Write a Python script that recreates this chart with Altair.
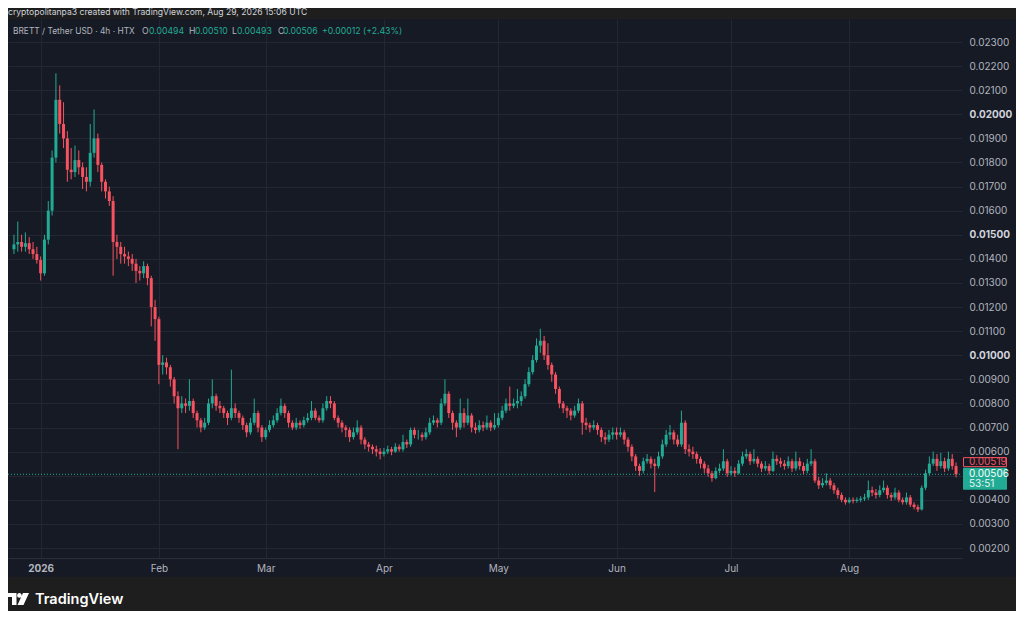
import altair as alt
import pandas as pd

# ---------------- data (daily candles) ----------------
START = "2025-12-25"
OPEN_FIRST = 0.01440

CLOSE = [
    0.01460, 0.01470, 0.01450, 0.01465, 0.01440, 0.01420, 0.01395, 0.01340, 0.01480, 0.01600,
    0.01820, 0.02060, 0.01960, 0.01900, 0.01770, 0.01760, 0.01810, 0.01780, 0.01740, 0.01720,
    0.01840, 0.01900, 0.01790, 0.01720, 0.01680, 0.01640, 0.01470, 0.01450, 0.01420, 0.01410,
    0.01400, 0.01380, 0.01350, 0.01340, 0.01370, 0.01320, 0.01200, 0.01150, 0.00960, 0.00970,
    0.00950, 0.00900, 0.00830, 0.00780, 0.00800, 0.00790, 0.00810, 0.00760, 0.00730, 0.00700,
    0.00720, 0.00800, 0.00830, 0.00790, 0.00780, 0.00760, 0.00740, 0.00780, 0.00760, 0.00740,
    0.00710, 0.00680, 0.00720, 0.00760, 0.00700, 0.00660, 0.00690, 0.00710, 0.00730, 0.00760,
    0.00790, 0.00760, 0.00720, 0.00700, 0.00720, 0.00710, 0.00730, 0.00740, 0.00770, 0.00740,
    0.00730, 0.00780, 0.00810, 0.00800, 0.00740, 0.00720, 0.00700, 0.00690, 0.00660, 0.00680,
    0.00700, 0.00650, 0.00630, 0.00620, 0.00610, 0.00600, 0.00590, 0.00600, 0.00610, 0.00600,
    0.00620, 0.00610, 0.00640, 0.00630, 0.00690, 0.00670, 0.00670, 0.00660, 0.00680, 0.00720,
    0.00730, 0.00720, 0.00800, 0.00840, 0.00760, 0.00720, 0.00700, 0.00760, 0.00720, 0.00750,
    0.00700, 0.00690, 0.00710, 0.00700, 0.00720, 0.00700, 0.00710, 0.00740, 0.00770, 0.00800,
    0.00790, 0.00800, 0.00810, 0.00830, 0.00880, 0.00930, 0.00980, 0.01040, 0.01060, 0.01000,
    0.00960, 0.00920, 0.00860, 0.00800, 0.00780, 0.00770, 0.00750, 0.00770, 0.00800, 0.00720,
    0.00710, 0.00700, 0.00710, 0.00690, 0.00660, 0.00650, 0.00670, 0.00680, 0.00670, 0.00680,
    0.00650, 0.00620, 0.00580, 0.00540, 0.00520, 0.00560, 0.00570, 0.00550, 0.00540, 0.00580,
    0.00630, 0.00670, 0.00680, 0.00650, 0.00630, 0.00720, 0.00610, 0.00600, 0.00590, 0.00570,
    0.00550, 0.00530, 0.00510, 0.00490, 0.00520, 0.00530, 0.00560, 0.00510, 0.00520, 0.00510,
    0.00550, 0.00580, 0.00590, 0.00560, 0.00570, 0.00550, 0.00530, 0.00540, 0.00520, 0.00570,
    0.00560, 0.00550, 0.00540, 0.00560, 0.00530, 0.00560, 0.00540, 0.00520, 0.00550, 0.00560,
    0.00480, 0.00460, 0.00470, 0.00480, 0.00460, 0.00440, 0.00420, 0.00400, 0.00390, 0.00400,
    0.00395, 0.00400, 0.00405, 0.00410, 0.00440, 0.00430, 0.00420, 0.00440, 0.00450, 0.00420,
    0.00410, 0.00430, 0.00400, 0.00390, 0.00410, 0.00380, 0.00370, 0.00360, 0.00450, 0.00510,
    0.00550, 0.00570, 0.00540, 0.00560, 0.00530, 0.00570, 0.00540, 0.00506,
]

HIGH = [
    0.01500, 0.01555, 0.01500, 0.01510, 0.01490, 0.01470, 0.01450, 0.01410, 0.01500, 0.01640,
    0.01850, 0.02170, 0.02120, 0.02050, 0.01930, 0.01860, 0.01870, 0.01850, 0.01800, 0.01780,
    0.01960, 0.02020, 0.01920, 0.01800, 0.01730, 0.01700, 0.01660, 0.01500, 0.01470, 0.01450,
    0.01430, 0.01420, 0.01400, 0.01370, 0.01390, 0.01380, 0.01330, 0.01230, 0.01160, 0.01000,
    0.00990, 0.00960, 0.00910, 0.00850, 0.00830, 0.00820, 0.00900, 0.00820, 0.00770, 0.00740,
    0.00740, 0.00820, 0.00900, 0.00840, 0.00810, 0.00790, 0.00770, 0.00940, 0.00800, 0.00770,
    0.00750, 0.00720, 0.00740, 0.00820, 0.00770, 0.00710, 0.00700, 0.00730, 0.00750, 0.00780,
    0.00820, 0.00800, 0.00770, 0.00730, 0.00740, 0.00730, 0.00745, 0.00760, 0.00810, 0.00780,
    0.00750, 0.00800, 0.00830, 0.00830, 0.00810, 0.00750, 0.00730, 0.00710, 0.00700, 0.00700,
    0.00730, 0.00710, 0.00660, 0.00640, 0.00630, 0.00625, 0.00615, 0.00615, 0.00625, 0.00620,
    0.00635, 0.00630, 0.00670, 0.00650, 0.00700, 0.00700, 0.00690, 0.00680, 0.00700, 0.00740,
    0.00750, 0.00740, 0.00820, 0.00900, 0.00850, 0.00770, 0.00730, 0.00820, 0.00780, 0.00820,
    0.00760, 0.00720, 0.00730, 0.00725, 0.00750, 0.00730, 0.00760, 0.00760, 0.00790, 0.00820,
    0.00870, 0.00820, 0.00860, 0.00850, 0.00900, 0.00950, 0.01000, 0.01070, 0.01110, 0.01080,
    0.01050, 0.00970, 0.00930, 0.00870, 0.00810, 0.00790, 0.00780, 0.00790, 0.00820, 0.00810,
    0.00740, 0.00720, 0.00730, 0.00720, 0.00700, 0.00680, 0.00690, 0.00700, 0.00700, 0.00700,
    0.00690, 0.00660, 0.00630, 0.00590, 0.00550, 0.00575, 0.00590, 0.00580, 0.00570, 0.00600,
    0.00650, 0.00690, 0.00710, 0.00690, 0.00670, 0.00770, 0.00730, 0.00630, 0.00620, 0.00600,
    0.00580, 0.00560, 0.00545, 0.00520, 0.00535, 0.00550, 0.00610, 0.00570, 0.00540, 0.00535,
    0.00565, 0.00600, 0.00610, 0.00600, 0.00610, 0.00580, 0.00560, 0.00560, 0.00550, 0.00600,
    0.00585, 0.00575, 0.00565, 0.00580, 0.00570, 0.00600, 0.00575, 0.00555, 0.00570, 0.00610,
    0.00570, 0.00495, 0.00490, 0.00510, 0.00490, 0.00470, 0.00450, 0.00430, 0.00410, 0.00410,
    0.00410, 0.00410, 0.00415, 0.00425, 0.00480, 0.00455, 0.00445, 0.00460, 0.00480, 0.00460,
    0.00430, 0.00450, 0.00440, 0.00410, 0.00430, 0.00420, 0.00390, 0.00380, 0.00460, 0.00525,
    0.00580, 0.00600, 0.00590, 0.00595, 0.00575, 0.00600, 0.00590, 0.00555,
]

LOW = [
    0.01420, 0.01430, 0.01430, 0.01430, 0.01420, 0.01400, 0.01380, 0.01310, 0.01330, 0.01460,
    0.01580, 0.01800, 0.01920, 0.01860, 0.01720, 0.01730, 0.01740, 0.01750, 0.01690, 0.01680,
    0.01700, 0.01820, 0.01760, 0.01680, 0.01650, 0.01620, 0.01330, 0.01400, 0.01380, 0.01380,
    0.01370, 0.01350, 0.01300, 0.01310, 0.01320, 0.01290, 0.01120, 0.01060, 0.00880, 0.00920,
    0.00920, 0.00870, 0.00800, 0.00610, 0.00760, 0.00760, 0.00770, 0.00740, 0.00700, 0.00680,
    0.00690, 0.00710, 0.00780, 0.00770, 0.00760, 0.00740, 0.00710, 0.00730, 0.00740, 0.00720,
    0.00690, 0.00660, 0.00670, 0.00710, 0.00680, 0.00640, 0.00650, 0.00680, 0.00700, 0.00720,
    0.00750, 0.00740, 0.00700, 0.00690, 0.00690, 0.00695, 0.00700, 0.00720, 0.00730, 0.00730,
    0.00720, 0.00720, 0.00770, 0.00780, 0.00730, 0.00700, 0.00680, 0.00660, 0.00640, 0.00650,
    0.00670, 0.00630, 0.00610, 0.00600, 0.00590, 0.00580, 0.00568, 0.00580, 0.00590, 0.00585,
    0.00595, 0.00600, 0.00600, 0.00615, 0.00620, 0.00655, 0.00650, 0.00645, 0.00650, 0.00670,
    0.00710, 0.00700, 0.00710, 0.00790, 0.00740, 0.00690, 0.00660, 0.00690, 0.00700, 0.00710,
    0.00680, 0.00675, 0.00680, 0.00685, 0.00690, 0.00685, 0.00690, 0.00700, 0.00730, 0.00760,
    0.00770, 0.00780, 0.00780, 0.00790, 0.00820, 0.00870, 0.00920, 0.00970, 0.01010, 0.00980,
    0.00940, 0.00890, 0.00840, 0.00780, 0.00760, 0.00740, 0.00730, 0.00740, 0.00760, 0.00670,
    0.00690, 0.00680, 0.00690, 0.00670, 0.00640, 0.00630, 0.00640, 0.00650, 0.00650, 0.00660,
    0.00630, 0.00600, 0.00560, 0.00520, 0.00500, 0.00510, 0.00550, 0.00530, 0.00432, 0.00530,
    0.00570, 0.00620, 0.00650, 0.00630, 0.00620, 0.00620, 0.00590, 0.00580, 0.00570, 0.00550,
    0.00530, 0.00510, 0.00495, 0.00475, 0.00485, 0.00510, 0.00520, 0.00495, 0.00500, 0.00495,
    0.00505, 0.00540, 0.00570, 0.00545, 0.00550, 0.00535, 0.00515, 0.00520, 0.00505, 0.00515,
    0.00545, 0.00535, 0.00525, 0.00530, 0.00515, 0.00520, 0.00525, 0.00505, 0.00510, 0.00540,
    0.00470, 0.00445, 0.00450, 0.00460, 0.00445, 0.00425, 0.00405, 0.00390, 0.00380, 0.00385,
    0.00385, 0.00388, 0.00390, 0.00395, 0.00400, 0.00415, 0.00405, 0.00410, 0.00430, 0.00405,
    0.00395, 0.00400, 0.00390, 0.00380, 0.00380, 0.00370, 0.00360, 0.00349, 0.00355, 0.00440,
    0.00500, 0.00540, 0.00520, 0.00530, 0.00515, 0.00520, 0.00525, 0.00493,
]

PRICE_TICKS = [0.002, 0.003, 0.004, 0.005, 0.006, 0.007, 0.008, 0.009, 0.010, 0.011, 0.012,
               0.013, 0.014, 0.015, 0.016, 0.017, 0.018, 0.019, 0.020, 0.021, 0.022, 0.023]
BOLD_TICKS = [0.010, 0.015, 0.020]
HIDDEN_TICK = 0.005          # its label sits under the last-price tag
MONTH_LABELS = ["2026", "Feb", "Mar", "Apr", "May", "Jun", "Jul", "Aug"]

LAST_CLOSE = 0.00506
MARK_PRICE = 0.00519
COUNTDOWN = "53:51"
WATERMARK = "cryptopolitanpa3 created with TradingView.com, Aug 29, 2026 15:06 UTC"
SYMBOL = "BRETT / Tether USD · 4h · HTX"
OHLC_KEYS = ["O", "H", "L", "C"]
OHLC_VALS = ["0.00494", "0.00510", "0.00493", "0.00506"]
CHANGE = "+0.00012 (+2.43%)"
BRAND = "TradingView"

assert len(CLOSE) == len(HIGH) == len(LOW)

OPEN = [OPEN_FIRST] + CLOSE[:-1]
dates = pd.date_range(START, periods=len(CLOSE), freq="D").strftime("%Y-%m-%dT00:00:00Z")
df = pd.DataFrame({"t": list(dates), "o": OPEN, "h": HIGH, "l": LOW, "c": CLOSE})

# ---------------- style ----------------
W, H = 954, 539
PANEL = "#161a25"
OUTER = "#1e1e1e"
GRID = "#232734"
TXT = "#b2b5be"
TXT_HI = "#d1d4dc"
UP = "#22ab94"
DOWN = "#f7525f"
FONT = "Inter"

x_scale = alt.Scale(
    type="utc",
    domain=[alt.DateTime(year=2025, month=12, date=24, hours=18, utc=True),
            alt.DateTime(year=2026, month=8, date=29, hours=6, utc=True)],
)
y_scale = alt.Scale(domain=[0.001585, 0.023955], nice=False, zero=False)

label_expr = "[" + ",".join("'%s'" % s for s in MONTH_LABELS) + "][utcmonth(datum.value)]"
x_axis = alt.Axis(
    values=[alt.DateTime(year=2026, month=m, date=1, utc=True) for m in range(1, len(MONTH_LABELS) + 1)],
    labelExpr=label_expr, title=None, grid=True, gridColor=GRID, gridWidth=1,
    ticks=False, domain=True, domainColor="#2a2e39", labelColor=TXT, labelFontSize=10,
    labelFont=FONT, labelPadding=5, labelFlush=False,
    labelFontWeight={"condition": {"test": "utcmonth(datum.value) == 0", "value": "bold"}, "value": "normal"},
)
bold_test = " || ".join("abs(datum.value - %s) < 0.00001" % v for v in BOLD_TICKS)
y_axis = alt.Axis(
    values=PRICE_TICKS, title=None, orient="right", grid=True, gridColor=GRID,
    labelExpr="abs(datum.value - %s) < 0.0000001 ? '' : format(datum.value, '.5f')" % HIDDEN_TICK,
    gridWidth=1, ticks=False, domain=False, labelFontSize=10, labelFont=FONT, labelPadding=7,
    labelFlush=False, labelOverlap=False,
    labelColor={"condition": {"test": bold_test, "value": TXT_HI}, "value": TXT},
    labelFontWeight={"condition": {"test": bold_test, "value": "bold"}, "value": "normal"},
)

X = alt.X("t:T", scale=x_scale, axis=x_axis)
col = alt.condition("datum.c >= datum.o", alt.value(UP), alt.value(DOWN))

base = alt.Chart(df)
wick = base.mark_rule(strokeWidth=1).encode(
    x=X, y=alt.Y("l:Q", scale=y_scale, axis=y_axis), y2="h:Q", color=col)
body = base.mark_bar(size=3.0).encode(
    x=X, y=alt.Y("o:Q", scale=y_scale, axis=y_axis), y2="c:Q", color=col)

one = alt.Data(values=[{}])


def text(s, x, y, color, size=9, weight="normal", align="left"):
    return alt.Chart(alt.Data(values=[{"s": s}])).mark_text(
        align=align, baseline="middle", color=color, fontSize=size, fontWeight=weight, font=FONT
    ).encode(x=alt.value(x), y=alt.value(y), text="s:N")


def ydat(v):
    # same axis definition as the candles so the shared axis merges cleanly
    return alt.YDatum(v, scale=y_scale, axis=y_axis)


def y2dat(v):
    return alt.Y2Datum(v)


# outer frame strips
top_strip = alt.Chart(one).mark_rect(color=OUTER).encode(
    x=alt.value(-10), x2=alt.value(W + 80), y=alt.value(-12), y2=alt.value(0))
bot_strip = alt.Chart(one).mark_rect(color=OUTER).encode(
    x=alt.value(-10), x2=alt.value(W + 80), y=alt.value(558), y2=alt.value(620))

# last price line and labels
last_line = alt.Chart(one).mark_rule(color=UP, strokeDash=[1, 2], strokeWidth=1).encode(
    x=alt.value(0), x2=alt.value(W), y=ydat(LAST_CLOSE))
green_box = alt.Chart(one).mark_rect(color=UP, yOffset=-6.5, y2Offset=15.5, cornerRadius=1).encode(
    x=alt.value(W + 1), x2=alt.value(W + 45), y=ydat(LAST_CLOSE), y2=y2dat(LAST_CLOSE))
green_t1 = alt.Chart(alt.Data(values=[{"s": "%.5f" % LAST_CLOSE}])).mark_text(
    align="left", baseline="middle", color="#ffffff", fontSize=10, font=FONT).encode(
    x=alt.value(W + 7), y=ydat(LAST_CLOSE), text="s:N")
green_t2 = alt.Chart(alt.Data(values=[{"s": COUNTDOWN}])).mark_text(
    align="left", baseline="middle", color="#e8f5f2", fontSize=10, font=FONT, dy=10).encode(
    x=alt.value(W + 7), y=ydat(LAST_CLOSE), text="s:N")
red_box = alt.Chart(one).mark_rect(fill=PANEL, stroke=DOWN, strokeWidth=1, yOffset=-13.5, y2Offset=-4.5).encode(
    x=alt.value(W + 1.5), x2=alt.value(W + 44.5), y=ydat(MARK_PRICE), y2=y2dat(MARK_PRICE))
red_t = alt.Chart(alt.Data(values=[{"s": "%.5f" % MARK_PRICE}])).mark_text(
    align="left", baseline="middle", color=DOWN, fontSize=10, font=FONT, dy=-9).encode(
    x=alt.value(W + 7), y=ydat(MARK_PRICE), text="s:N")

# header texts
hdr = [text(WATERMARK, 0, -7, TXT_HI, size=8.6)]
hdr.append(text(SYMBOL, 5, 12, TXT, size=8.4))
key_x = [134, 181, 224, 270]
val_x = [141, 187, 229, 275]
for k, v, kx, vx in zip(OHLC_KEYS, OHLC_VALS, key_x, val_x):
    hdr.append(text(k, kx, 12, TXT, size=8.7))
    hdr.append(text(v, vx, 12, UP, size=8.7))
hdr.append(text(CHANGE, 314, 12, UP, size=8.7))

# TradingView logo
LOGO_PATH = ("M-10.5,-6H-2V6H-6.5V-2H-10.5Z "
             "M-1.4,-3.6a2.3,2.3 0 1,0 4.6,0a2.3,2.3 0 1,0 -4.6,0Z "
             "M4.5,-6H10.5L5,6H-1Z")
logo = alt.Chart(one).mark_point(shape=LOGO_PATH, filled=True, color="#ffffff", opacity=1, size=4, strokeWidth=0).encode(
    x=alt.value(10.5), y=alt.value(580))
brand = text(BRAND, 27, 581, "#ffffff", size=14.5, weight=600)

chart = alt.layer(
    wick, body, top_strip, bot_strip, last_line, red_box, red_t, green_box, green_t1, green_t2,
    *hdr, logo, brand,
).properties(
    width=W, height=H,
    autosize=alt.AutoSizeParams(type="none"),
    padding={"left": 0, "top": 11, "right": 54, "bottom": 53},
    background=PANEL,
).configure(font=FONT).configure_view(strokeWidth=0, stroke=None)

chart.save("out.html", embed_options={"renderer": "svg", "actions": False})
